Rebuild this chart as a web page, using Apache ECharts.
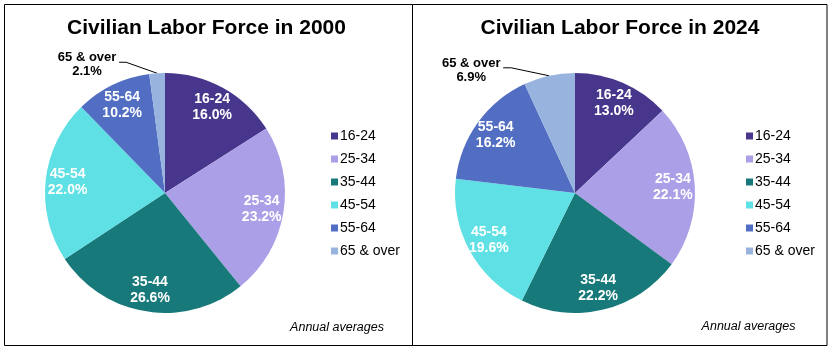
<!DOCTYPE html>
<html>
<head>
<meta charset="utf-8">
<script src="https://cdn.jsdelivr.net/npm/echarts@6/dist/echarts.min.js"></script>
<style>
html,body{margin:0;padding:0;background:#fff;}
#chart{width:835px;height:357px;}
</style>
</head>
<body>
<div id="chart"></div>
<script>
const categories = ['16-24', '25-34', '35-44', '45-54', '55-64', '65 & over'];
const values2000 = [16.0, 23.2, 26.6, 22.0, 10.2, 2.1];
const values2024 = [13.0, 22.1, 22.2, 19.6, 16.2, 6.9];
const colors = ['#47368C', '#AB9FE7', '#18797A', '#5EE0E4', '#526EC3', '#98B4DE'];
const titles = ['Civilian Labor Force in 2000', 'Civilian Labor Force in 2024'];
const note = 'Annual averages';

const FONT = "'Liberation Sans', Arial, sans-serif";
const chart = echarts.init(document.getElementById('chart'));

const centers = [[165, 193], [575, 193]];
// offsets of the outside label relative to slice edge point
const outLab = [
  {dx: -70, dy: -9, ly: -11, l1: -31, l2: -38},
  {dx: -78, dy: -5, ly: -8, l1: -38, l2: -46}
];

function mainData(vals) {
  return categories.map((c, i) => {
    const d = {name: c, value: vals[i], itemStyle: {color: colors[i]}};
    if (i === categories.length - 1) {
      d.label = {show: true, position: 'outside', color: '#000', fontWeight: 'bold', fontSize: 13, fontFamily: FONT, lineHeight: 14,
        formatter: p => p.name + '\n' + p.value.toFixed(1) + '%'};
      d.labelLine = {show: true, length: 10, length2: 10, lineStyle: {color: '#000', width: 1}};
    }
    return d;
  });
}
function labelData(vals) {
  return categories.map((c, i) => ({
    name: c, value: vals[i],
    label: {show: i !== categories.length - 1}
  }));
}

function mainSeries(vals, idx) {
  return {
    type: 'pie', center: centers[idx], radius: 120, startAngle: 90, clockwise: true,
    data: mainData(vals),
    label: {show: false},
    labelLine: {show: false},
    itemStyle: {borderWidth: 0},
    emphasis: {disabled: true},
    animation: false,
    labelLayout: function (p) {
      if (p.dataIndex !== categories.length - 1 || !p.labelLinePoints) return;
      const o = outLab[idx];
      const p0 = p.labelLinePoints[0];
      return {
        x: p0[0] + o.dx, y: p0[1] + o.dy, align: 'center', verticalAlign: 'middle',
        labelLinePoints: [p0, [p0[0] + o.l1, p0[1] + o.ly], [p0[0] + o.l2, p0[1] + o.ly]]
      };
    }
  };
}
function labelSeries(vals, idx) {
  return {
    type: 'pie', center: centers[idx], radius: 190, startAngle: 90, clockwise: true,
    silent: true, animation: false,
    data: labelData(vals),
    itemStyle: {color: 'rgba(0,0,0,0)', borderWidth: 0},
    label: {position: 'inside', color: '#fff', fontWeight: 'bold', fontSize: 14, fontFamily: FONT, lineHeight: 16,
      formatter: p => p.name + '\n' + p.value.toFixed(1) + '%'},
    labelLine: {show: false},
    emphasis: {disabled: true},
    legendHoverLink: false
  };
}

function legend(left) {
  return {
    orient: 'vertical', left: left, top: 129, padding: 0, icon: 'rect', itemWidth: 7, itemHeight: 7, itemGap: 9,
    data: categories, selectedMode: false,
    textStyle: {fontSize: 14, fontFamily: FONT, color: '#000', lineHeight: 14, padding: [0, 0, 0, -3]}
  };
}

chart.setOption({
  animation: false,
  legend: [legend(331), legend(746)],
  series: [mainSeries(values2000, 0), mainSeries(values2024, 1), labelSeries(values2000, 0), labelSeries(values2024, 1)],
  graphic: [
    {type: 'rect', shape: {x: 4.5, y: 4.5, width: 408, height: 341}, style: {fill: 'none', stroke: '#000', lineWidth: 1}, silent: true},
    {type: 'rect', shape: {x: 412.5, y: 4.5, width: 414.5, height: 341}, style: {fill: 'none', stroke: '#000', lineWidth: 1}, silent: true},
    {type: 'text', x: 206.5, y: 28, style: {text: titles[0], font: 'bold 21px ' + FONT, fill: '#000', textAlign: 'center', textVerticalAlign: 'middle'}},
    {type: 'text', x: 620, y: 28, style: {text: titles[1], font: 'bold 21px ' + FONT, fill: '#000', textAlign: 'center', textVerticalAlign: 'middle'}},
    {type: 'text', x: 337, y: 328, style: {text: note, font: 'italic 12.5px ' + FONT, fill: '#000', textAlign: 'center', textVerticalAlign: 'middle'}},
    {type: 'text', x: 748.5, y: 327, style: {text: note, font: 'italic 12.5px ' + FONT, fill: '#000', textAlign: 'center', textVerticalAlign: 'middle'}}
  ]
});
</script>
</body>
</html>
